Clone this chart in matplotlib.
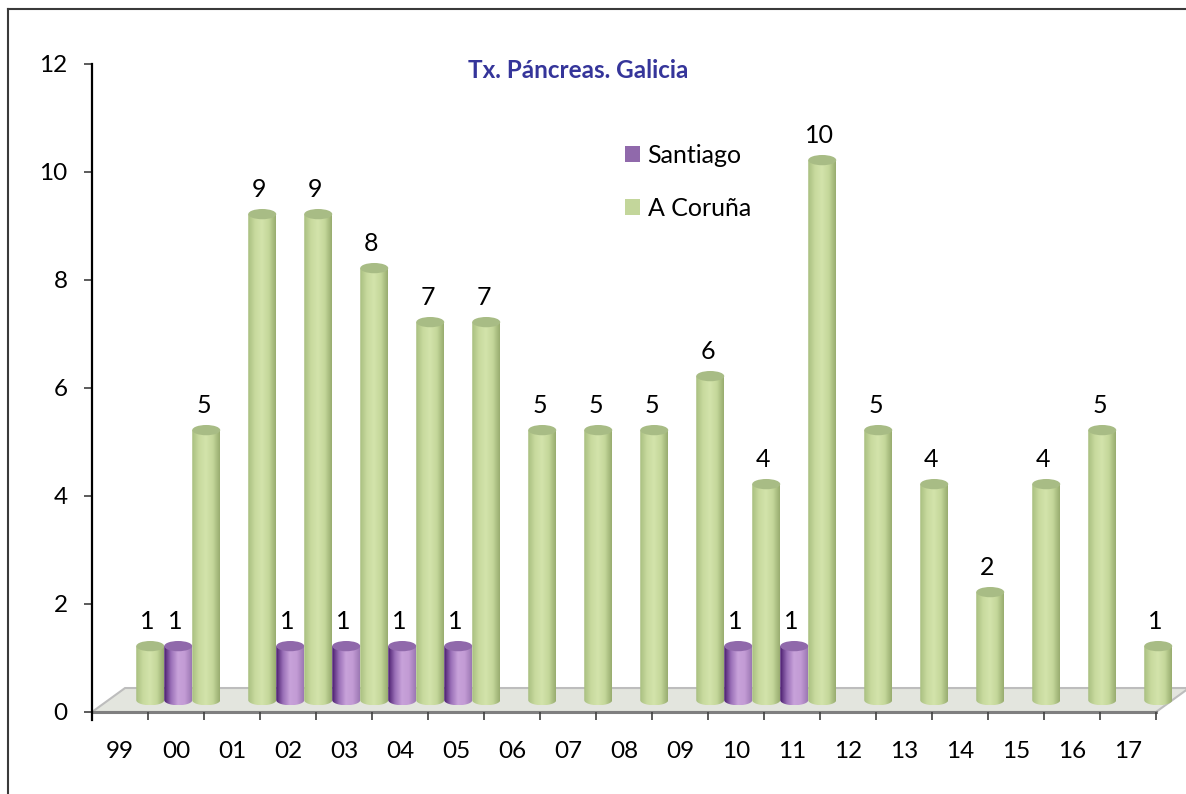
import numpy as np
import matplotlib
matplotlib.use('Agg')
import matplotlib.pyplot as plt
from matplotlib.patches import Polygon, PathPatch, Ellipse, Patch
from matplotlib.path import Path
from matplotlib.lines import Line2D
from matplotlib.colors import to_rgb

plt.rcParams['font.family'] = ['Lato', 'DejaVu Sans']

# data
years = ['99', '00', '01', '02', '03', '04', '05', '06', '07', '08',
         '09', '10', '11', '12', '13', '14', '15', '16', '17']
santiago = [0, 1, 0, 1, 1, 1, 1, 0, 0, 0, 0, 1, 1, 0, 0, 0, 0, 0, 0]
coruna = [1, 5, 9, 9, 8, 7, 7, 5, 5, 5, 6, 4, 10, 5, 4, 2, 4, 5, 1]
series_names = ['Santiago', 'A Coruña']
title = 'Tx. Páncreas. Galicia'

# styling
green_stops = ['#a9bf80', '#c8da9e', '#d3e3ab', '#c4d79a', '#98ad70']
purple_stops = ['#4a1c6e', '#9a70b8', '#c8a2da', '#c29bd4', '#9c78b4']
green_top = '#a8bc85'
purple_top = '#9069ab'
dx, dy = 0.29, 0.22        # depth offset of the bars (half the floor depth)
floor_dx, floor_dy = 0.59, 0.444
bar_w = 0.5
ell_h = 0.19


def gradient(stops, n=64):
    cols = np.array([to_rgb(c) for c in stops])
    xs = np.linspace(0, 1, len(stops))
    t = np.linspace(0, 1, n)
    return np.stack([np.interp(t, xs, cols[:, k]) for k in range(3)], axis=-1)[None, :, :]


def cylinder(ax, rect, stops, top_color, z):
    x0 = rect.get_x()
    w = rect.get_width()
    y0 = rect.get_y()
    y1 = y0 + rect.get_height()
    cx = x0 + w / 2
    th = np.linspace(np.pi, 2 * np.pi, 40)
    bottom = np.column_stack([cx + w / 2 * np.cos(th), y0 + ell_h / 2 * np.sin(th)])
    verts = np.vstack([[x0, y1], bottom, [x0 + w, y1], [x0, y1]])
    path = Path(verts, closed=True)
    clip = PathPatch(path, transform=ax.transData, facecolor='none', edgecolor='none')
    ax.add_patch(clip)
    im = ax.imshow(gradient(stops), extent=[x0, x0 + w, y0 - ell_h / 2, y1],
                   aspect='auto', interpolation='bilinear', zorder=z, clip_on=True)
    im.set_clip_path(clip)
    ax.add_patch(Ellipse((cx, y1), w, ell_h, facecolor=top_color,
                         edgecolor='none', zorder=z + 0.01, clip_on=False))


fig = plt.figure(figsize=(11.86, 7.94), dpi=100)
ax = fig.add_axes([92 / 1186, (794 - 712) / 794, (1186 - 92) / 1186, (712 - 64) / 794])

x = np.arange(len(years))
n = len(years)

# floor
floor = Polygon([(-0.5, 0), (n - 0.5, 0), (n - 0.5 + floor_dx, floor_dy), (-0.5 + floor_dx, floor_dy)],
                closed=True, facecolor='#e3e5de', edgecolor='#bdbdbd', lw=1.5, zorder=1, clip_on=False)
ax.add_patch(floor)
ax.plot([-0.5, n - 0.5], [0, 0], color='#7f7f7f', lw=2.2, zorder=1.5, clip_on=False)

bars_s = ax.bar(x - bar_w / 2 + dx, santiago, width=bar_w, bottom=dy, color='none')
bars_c = ax.bar(x + bar_w / 2 + dx, coruna, width=bar_w, bottom=dy, color='none')

for i in range(n):
    z = 2 + i * 0.1
    if santiago[i] > 0:
        cylinder(ax, bars_s[i], purple_stops, purple_top, z)
        ax.text(x[i] - bar_w / 2 + dx - 0.05, santiago[i] + dy + 0.46, str(santiago[i]),
                ha='center', va='center', fontsize=18, color='black')
    if coruna[i] > 0:
        cylinder(ax, bars_c[i], green_stops, green_top, z + 0.05)
        ax.text(x[i] + bar_w / 2 + dx - 0.05, coruna[i] + dy + 0.46, str(coruna[i]),
                ha='center', va='center', fontsize=18, color='black')

ax.set_xlim(-0.5, -0.5 + (1186 - 92) / 56)
ax.set_ylim(0, 12)

for s in ['top', 'right', 'bottom']:
    ax.spines[s].set_visible(False)
ax.spines['left'].set_color('black')
ax.spines['left'].set_linewidth(1.6)
ax.spines['left'].set_bounds(-0.15, 12)

ax.set_yticks(np.arange(0, 13, 2))
ax.tick_params(axis='y', direction='out', length=5.5, width=1.2, color='#404040',
               labelsize=17.5, pad=12)

ax.set_xticks(np.arange(-0.5, n, 1.0))
ax.set_xticklabels([])
ax.set_xticks(x, minor=True)
ax.set_xticklabels(years, minor=True)
ax.tick_params(axis='x', which='major', direction='out', length=6, width=1.2, color='#404040')
ax.tick_params(axis='x', which='minor', length=0, labelsize=17.5, pad=21)

fig.text(578 / 1186, 1 - 70 / 794, title, ha='center', va='center', fontsize=17.5,
         fontweight='bold', color='#35359a')

handles = [Patch(facecolor=purple_top), Patch(facecolor='#c3d69b')]
ax.legend(handles, series_names, loc='upper left', bbox_to_anchor=((625 - 92) / 1094, (712 - 144) / 648),
          frameon=False, fontsize=18, handlelength=0.6, handleheight=0.6, handletextpad=0.3,
          labelspacing=1.18, borderpad=0, borderaxespad=0)

# outer frame of the picture
fig.add_artist(Line2D([8 / 1186, 1], [1 - 9 / 794, 1 - 9 / 794], transform=fig.transFigure,
                      color='#3a3a3a', lw=1.5))
fig.add_artist(Line2D([8 / 1186, 8 / 1186], [0, 1 - 9 / 794], transform=fig.transFigure,
                      color='#3a3a3a', lw=1.5))

fig.savefig('out.png', dpi=100)
